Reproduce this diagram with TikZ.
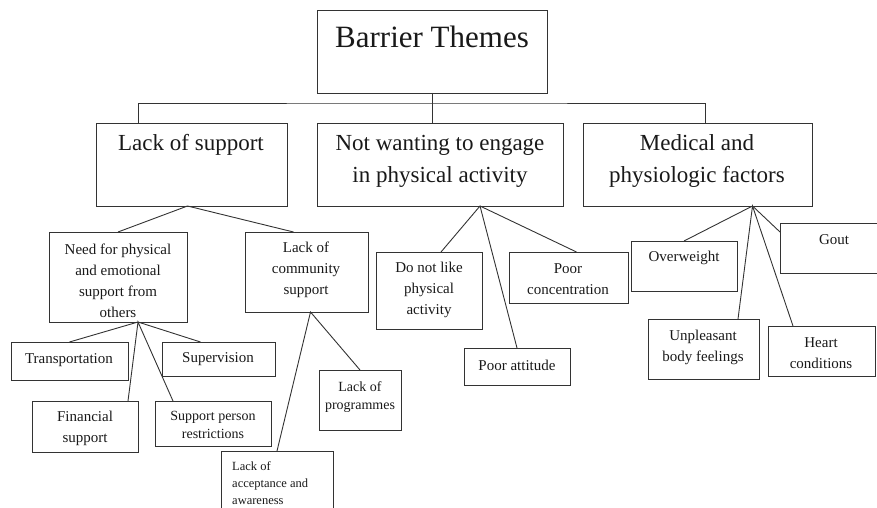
\documentclass[tikz,border=0pt]{standalone}
\usepackage{fontspec}
\setmainfont{Liberation Serif}
\usetikzlibrary{positioning}
\tikzset{
    box/.style={draw=black!80, line width=0.9pt, anchor=north west, inner sep=0pt, outer sep=0pt},
    link/.style={draw=black!80, line width=0.9pt},
    lbl/.style={align=center, inner sep=0pt, text=black!90},
    title/.style={lbl, font=\fontsize{31}{36}\selectfont},
    theme/.style={lbl, font=\fontsize{23}{32}\selectfont},
    item/.style={lbl, font=\fontsize{15}{21}\selectfont},
    smallitem/.style={lbl, font=\fontsize{14}{18.5}\selectfont},
    tinyitem/.style={lbl, align=left, font=\fontsize{12.5}{17}\selectfont},
}
\begin{document}
\begin{tikzpicture}[x=1pt,y=-1pt]
        \useasboundingbox (0,0) rectangle (877,508);
        \clip (0,0) rectangle (877,508);
        %% top box
        \node[box, minimum width=230, minimum height=83] (root) at (317,10) {};
        \node[title] (roottext) at (432,37) {Barrier Themes};
        %% the three themes
        \node[box, minimum width=191, minimum height=83] (lack) at (96,123) {};
        \node[theme] (lacktext) at (191,145) {Lack of support};
        \node[box, minimum width=246, minimum height=83] (notw) at (317,123) {};
        \node[theme] (notwtext) at (440,161) {Not wanting to engage\\in physical activity};
        \node[box, minimum width=229, minimum height=83] (med) at (583,123) {};
        \node[theme] (medtext) at (697,161) {Medical and\\physiologic factors};
        %% bus from the top box
        \coordinate (bus) at ([yshift=-10]root.south);
        \draw[link] (root.south) -- (root.south |- notw.north);
        \draw[link] ([xshift=42]lack.north west) |- (bus) -| ([xshift=122]med.north west);
        %% lack of support
        \node[box, minimum width=138, minimum height=90] (need) at (49,232) {};
        \node[item] (needtext) at (118,281) {Need for physical\\and emotional\\support from\\others};
        \node[box, minimum width=123, minimum height=80] (comm) at (245,232) {};
        \node[item] (commtext) at (306,270) {Lack of\\community\\support};
        \coordinate (lackfork) at ([xshift=-4]lack.south);
        \draw[link] (need.north) -- (lackfork) -- ([xshift=-13]comm.north);
        %% need for support
        \node[box, minimum width=117, minimum height=38] (transp) at (11,342) {};
        \node[item] (transptext) at (69,360) {Transportation};
        \node[box, minimum width=113, minimum height=34] (superv) at (162,342) {};
        \node[item] (supervtext) at (218,359) {Supervision};
        \node[box, minimum width=106, minimum height=51] (financ) at (32,401) {};
        \node[item] (financtext) at (85,428) {Financial\\support};
        \node[box, minimum width=116, minimum height=45] (suppers) at (155,401) {};
        \node[smallitem] (supperstext) at (213,425) {Support person\\restrictions};
        \coordinate (needfork) at ([xshift=20]need.south);
        \draw[link] (transp.north) -- (needfork) -- ([xshift=-18]superv.north);
        \draw[link] ([xshift=-10]financ.north east) -- (needfork) -- ([xshift=18]suppers.north west);
        %% community support
        \node[box, minimum width=82, minimum height=60] (progr) at (319,370) {};
        \node[smallitem] (progrtext) at (360,397) {Lack of\\programmes};
        \node[box, minimum width=112, minimum height=70] (accept) at (221,451) {};
        \node[tinyitem, anchor=west] (accepttext) at (232,483) {Lack of\\acceptance and\\awareness};
        \coordinate (commfork) at ([xshift=4]comm.south);
        \draw[link] (accept.north) -- (commfork) -- (progr.north);
        %% not wanting to engage
        \node[box, minimum width=106, minimum height=77] (dislike) at (376,252) {};
        \node[item] (dislikertext) at (429,290) {Do not like\\physical\\activity};
        \node[box, minimum width=106, minimum height=37] (attitude) at (464,348) {};
        \node[item] (attitudetext) at (517,365) {Poor attitude};
        \node[box, minimum width=119, minimum height=51] (concen) at (509,252) {};
        \node[item] (concentext) at (568,279) {Poor\\concentration};
        \coordinate (notwfork) at ([xshift=40]notw.south);
        \draw[link] ([xshift=12]dislike.north) -- (notwfork) -- ([xshift=8]concen.north);
        \draw[link] (notwfork) -- (attitude.north);
        %% medical and physiologic
        \node[box, minimum width=106, minimum height=50] (overw) at (631,241) {};
        \node[item] (overwtext) at (684,258) {Overweight};
        \node[box, minimum width=110, minimum height=50] (gout) at (780,223) {};
        \node[item] (gouttext) at (834,240) {Gout};
        \node[box, minimum width=111, minimum height=60] (unpl) at (648,319) {};
        \node[item] (unpltext) at (703,347) {Unpleasant\\body feelings};
        \node[box, minimum width=107, minimum height=50] (heart) at (768,326) {};
        \node[item] (hearttext) at (821,353) {Heart\\conditions};
        \coordinate (medfork) at ([xshift=55]med.south);
        \draw[link] (overw.north) -- (medfork) -- ([yshift=-9]gout.north west);
        \draw[link] ([xshift=-21]unpl.north east) -- (medfork) -- ([xshift=25]heart.north west);
\end{tikzpicture}
\end{document}
